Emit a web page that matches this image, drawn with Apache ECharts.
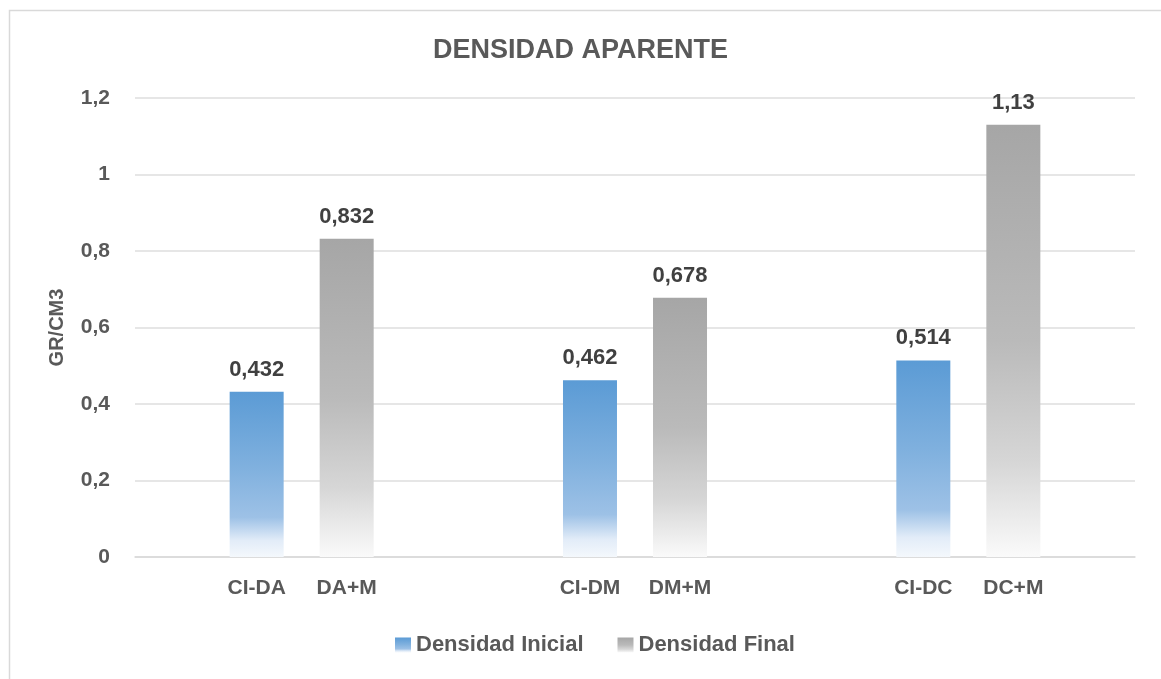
<!DOCTYPE html>
<html>
<head>
<meta charset="utf-8">
<title>Densidad aparente</title>
<script src="https://cdn.jsdelivr.net/npm/echarts@6.0.0/dist/echarts.min.js"></script>
<style>
  html, body { margin: 0; padding: 0; background: #fff; }
  #chart { width: 1161px; height: 679px; }
</style>
</head>
<body>
<div id="chart"></div>
<script>
const groups = ['DA', 'DM', 'DC']
const inicialLabels = ['CI-DA', 'CI-DM', 'CI-DC']
const finalLabels = ['DA+M', 'DM+M', 'DC+M']
const densidadInicial = [0.432, 0.462, 0.514]
const densidadFinal = [0.832, 0.678, 1.13]
const yTicks = [0, 0.2, 0.4, 0.6, 0.8, 1, 1.2]

const font = '"Liberation Sans", Arial, sans-serif'
const comma = v => String(v).replace('.', ',')

const blueFill = new echarts.graphic.LinearGradient(0, 0, 0, 1, [
  { offset: 0, color: '#5b9bd5' },
  { offset: 0.45, color: '#7fb0de' },
  { offset: 0.76, color: '#9dc1e6' },
  { offset: 0.9, color: '#e2ecf8' },
  { offset: 1, color: '#f4f8fc' },
])
const grayFill = new echarts.graphic.LinearGradient(0, 0, 0, 1, [
  { offset: 0, color: '#a6a6a6' },
  { offset: 0.5, color: '#bababa' },
  { offset: 0.78, color: '#d6d6d6' },
  { offset: 1, color: '#fafafa' },
])

const chart = echarts.init(document.getElementById('chart'))

const axisText = {
  fontFamily: font,
  fontSize: 21,
  fontWeight: 'bold',
  color: '#595959',
}

const valueLabel = {
  show: true,
  position: 'top',
  distance: 11,
  fontFamily: font,
  fontSize: 22,
  fontWeight: 'bold',
  color: '#404040',
  formatter: p => comma(p.value),
}

chart.setOption({
  animation: false,
  textStyle: { fontFamily: font },
  title: {
    text: 'DENSIDAD APARENTE',
    left: 'center',
    top: 32,
    textStyle: {
      fontFamily: font,
      fontSize: 27,
      fontWeight: 'bold',
      color: '#595959',
    },
  },
  graphic: [
    {
      type: 'rect',
      left: 7,
      top: 8,
      shape: { width: 1200, height: 700 },
      style: { fill: 'none', stroke: '#d9d9d9', lineWidth: 1.5 },
      silent: true,
    },
  ],
  legend: {
    bottom: 18,
    left: 390,
    itemWidth: 16,
    itemHeight: 15,
    itemGap: 34,
    icon: 'rect',
    textStyle: Object.assign({}, axisText, { fontSize: 22 }),
    data: ['Densidad Inicial', 'Densidad Final'],
  },
  grid: {
    left: 135,
    right: 26,
    top: 98,
    bottom: 122,
  },
  xAxis: {
    type: 'category',
    data: groups,
    axisTick: { show: false },
    axisLine: { lineStyle: { color: '#d9d9d9', width: 1.5 } },
    axisLabel: {
      margin: 21,
      formatter: (v, i) => `{a|${inicialLabels[i]}}{b|${finalLabels[i]}}`,
      rich: {
        a: Object.assign({ width: 90, align: 'center' }, axisText),
        b: Object.assign({ width: 90, align: 'center' }, axisText),
      },
    },
  },
  yAxis: {
    type: 'value',
    min: yTicks[0],
    max: yTicks[yTicks.length - 1],
    interval: 0.2,
    name: 'GR/CM3',
    nameLocation: 'middle',
    nameGap: 68,
    nameTextStyle: Object.assign({}, axisText, { fontSize: 20 }),
    axisLine: { show: false },
    axisTick: { show: false },
    axisLabel: Object.assign({
      margin: 25,
      formatter: v => comma(Math.round(v * 10) / 10),
    }, axisText),
    splitLine: { lineStyle: { color: '#dedede', width: 1.5 } },
  },
  series: [
    {
      name: 'Densidad Inicial',
      type: 'bar',
      barWidth: 54,
      barGap: '66.7%',
      data: densidadInicial,
      itemStyle: { color: blueFill },
      label: valueLabel,
    },
    {
      name: 'Densidad Final',
      type: 'bar',
      barWidth: 54,
      data: densidadFinal,
      itemStyle: { color: grayFill },
      label: valueLabel,
    },
  ],
})
</script>
</body>
</html>
